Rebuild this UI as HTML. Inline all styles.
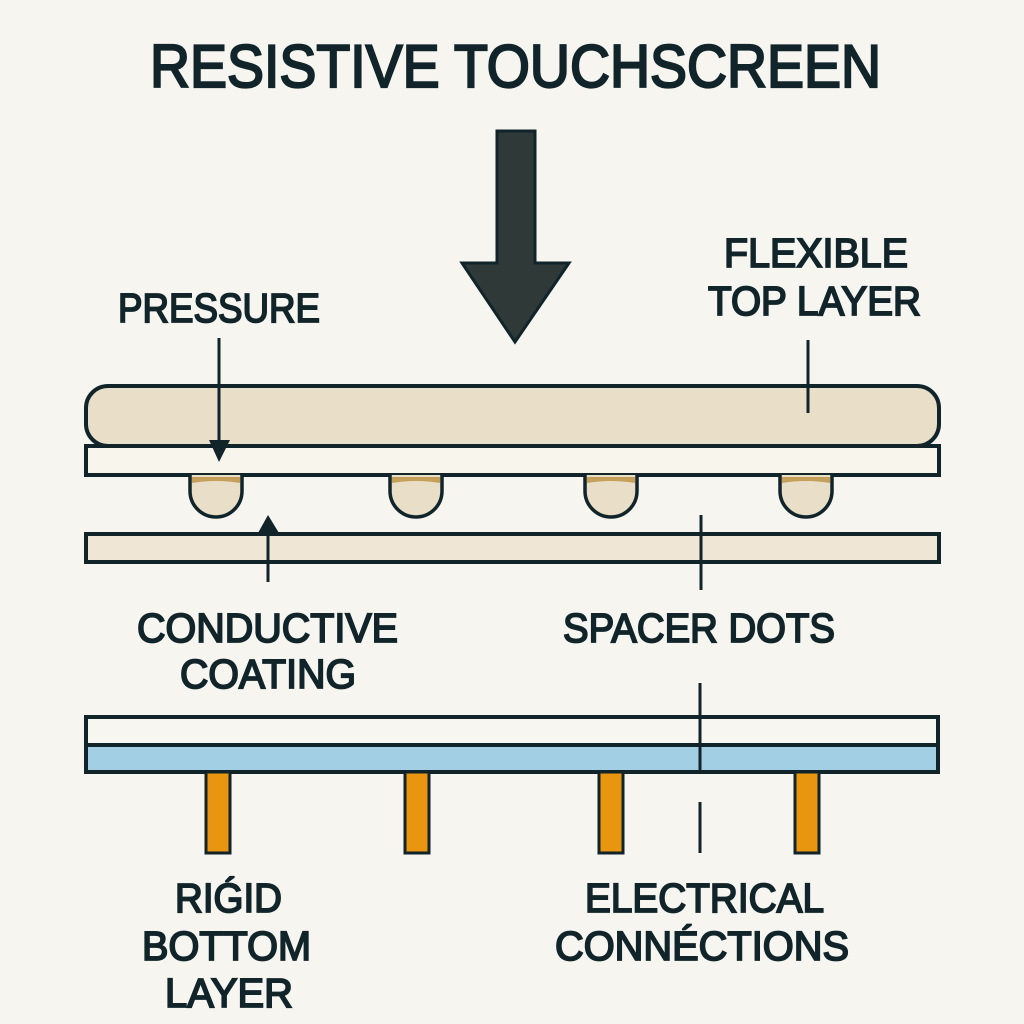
<!DOCTYPE html>
<html>
<head>
<meta charset="utf-8">
<style>
html,body{margin:0;padding:0;background:#f7f5f0;}
svg{display:block;}
text{font-family:"Liberation Sans",sans-serif;fill:#10242a;stroke:#10242a;stroke-width:1.8;paint-order:stroke;}
</style>
</head>
<body>
<svg width="1024" height="1024" viewBox="0 0 1024 1024" xmlns="http://www.w3.org/2000/svg">
<rect width="1024" height="1024" fill="#f7f5f0"/>

<!-- Title -->
<text x="150" y="87" font-size="60" textLength="731" lengthAdjust="spacingAndGlyphs" style="stroke-width:2.2">RESISTIVE TOUCHSCREEN</text>

<!-- Big arrow -->
<polygon points="497,131 535,131 535,263 569,263 515,342 462,263 497,263" fill="#2f3a38" stroke="#10242a" stroke-width="3" stroke-linejoin="miter"/>

<!-- Labels top -->
<text x="118" y="322" font-size="41" textLength="202" lengthAdjust="spacingAndGlyphs">PRESSURE</text>
<text x="724" y="267" font-size="41" textLength="184" lengthAdjust="spacingAndGlyphs">FLEXIBLE</text>
<text x="708" y="315" font-size="41" textLength="213" lengthAdjust="spacingAndGlyphs">TOP LAYER</text>

<!-- Flexible top layer (rounded) -->
<rect x="86" y="386" width="853" height="60" rx="22" ry="22" fill="#e9dfc9" stroke="#10242a" stroke-width="4"/>
<!-- white layer -->
<rect x="86" y="446" width="853" height="29" fill="#f8f5ec" stroke="#10242a" stroke-width="4"/>

<!-- Spacer dots -->
<g stroke="#10242a" stroke-width="3.5">
  <path d="M190,475 L190,491 A26,26 0 0 0 242,491 L242,475" fill="#e9dec7"/>
  <path d="M390,475 L390,491 A26,26 0 0 0 442,491 L442,475" fill="#e9dec7"/>
  <path d="M585,475 L585,491 A26,26 0 0 0 637,491 L637,475" fill="#e9dec7"/>
  <path d="M780,475 L780,491 A26,26 0 0 0 832,491 L832,475" fill="#e9dec7"/>
</g>
<g fill="#c4a05a">
  <path d="M192,477 h48 v6 q-24,-4 -48,0 z"/>
  <path d="M392,477 h48 v6 q-24,-4 -48,0 z"/>
  <path d="M587,477 h48 v6 q-24,-4 -48,0 z"/>
  <path d="M782,477 h48 v6 q-24,-4 -48,0 z"/>
</g>

<!-- Conductive coating layer -->
<rect x="86" y="534" width="853" height="28" fill="#efe6d5" stroke="#10242a" stroke-width="4"/>

<!-- Pressure arrow -->
<line x1="219" y1="338" x2="219" y2="445" stroke="#10242a" stroke-width="3"/>
<polygon points="209,440 230,440 219,462" fill="#10242a"/>

<!-- Conductive up arrow -->
<line x1="268" y1="582" x2="268" y2="528" stroke="#10242a" stroke-width="3"/>
<polygon points="258,533 279,533 268,515" fill="#10242a"/>

<!-- flexible top layer leader -->
<line x1="808" y1="340" x2="808" y2="413" stroke="#10242a" stroke-width="3"/>

<!-- spacer dots leader -->
<line x1="701" y1="515" x2="701" y2="590" stroke="#10242a" stroke-width="3"/>

<!-- Labels mid -->
<text x="137" y="642" font-size="41" textLength="261" lengthAdjust="spacingAndGlyphs">CONDUCTIVE</text>
<text x="180" y="688" font-size="41" textLength="176" lengthAdjust="spacingAndGlyphs">COATING</text>
<text x="563" y="642" font-size="41" textLength="272" lengthAdjust="spacingAndGlyphs">SPACER DOTS</text>

<!-- Bottom layers -->
<rect x="86" y="717" width="852" height="28" fill="#f8f6f0" stroke="#10242a" stroke-width="4"/>
<rect x="86" y="745" width="852" height="27" fill="#a3cfe4" stroke="#10242a" stroke-width="4"/>
<line x1="700" y1="683" x2="700" y2="772" stroke="#10242a" stroke-width="3"/>
<line x1="700" y1="802" x2="700" y2="853" stroke="#10242a" stroke-width="3"/>

<!-- Orange pins -->
<g fill="#e8950f" stroke="#10242a" stroke-width="3">
  <rect x="206" y="772" width="24" height="81"/>
  <rect x="405" y="772" width="24" height="81"/>
  <rect x="599" y="772" width="24" height="81"/>
  <rect x="795" y="772" width="24" height="81"/>
</g>

<!-- Labels bottom -->
<text x="175" y="912" font-size="41" textLength="107" lengthAdjust="spacingAndGlyphs">RIǴID</text>
<text x="142" y="960" font-size="41" textLength="169" lengthAdjust="spacingAndGlyphs">BOTTOM</text>
<text x="165" y="1007" font-size="41" textLength="128" lengthAdjust="spacingAndGlyphs">LAYER</text>
<text x="585" y="912" font-size="41" textLength="239" lengthAdjust="spacingAndGlyphs">ELECTRICAL</text>
<text x="555" y="960" font-size="41" textLength="294" lengthAdjust="spacingAndGlyphs">CONNÉCTIONS</text>
</svg>
</body>
</html>
